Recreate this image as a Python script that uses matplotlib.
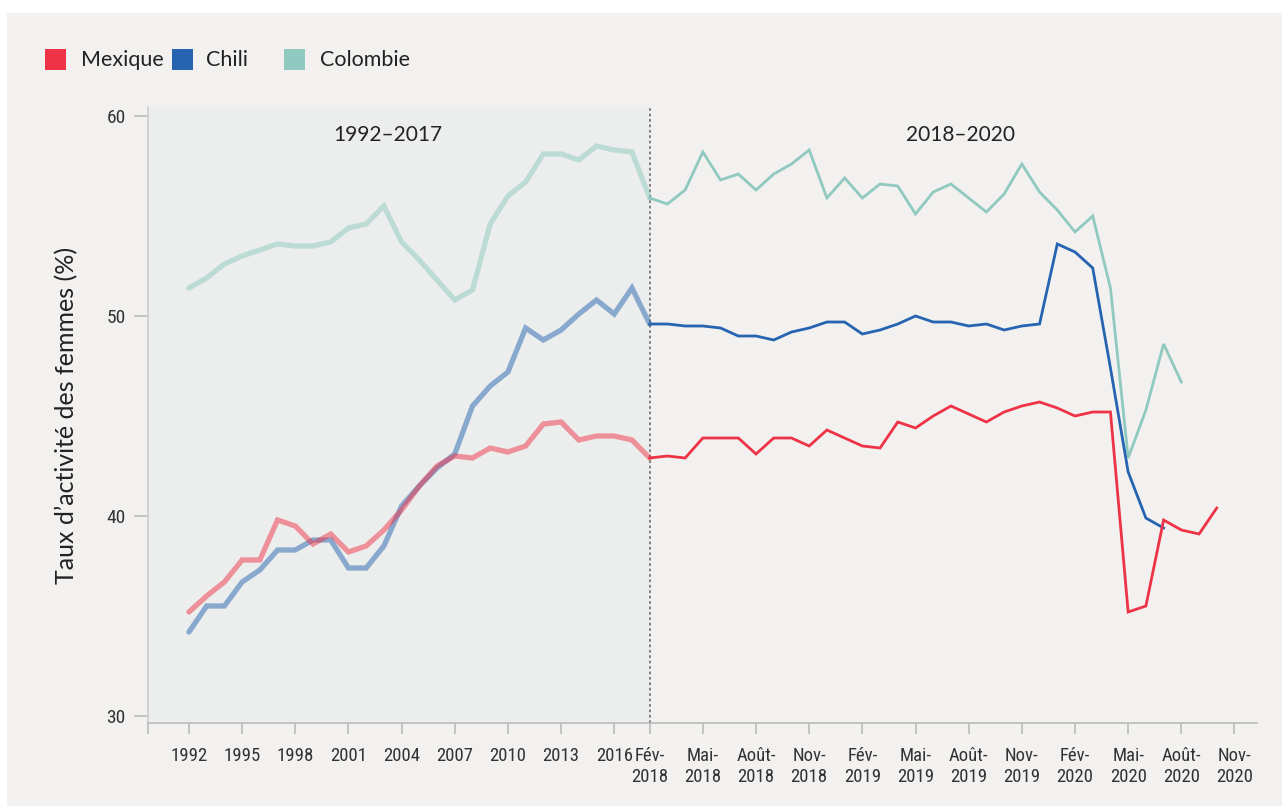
#!/usr/bin/env python3

# Taux d'activite des femmes : Mexique, Chili, Colombie (1992-2017 annuel, 2018-2020 mensuel)

import numpy as np
import matplotlib
matplotlib.use("Agg")
import matplotlib.pyplot as plt
from matplotlib import font_manager
from matplotlib.patches import Rectangle


# annual data 1992-2017
years = list(range(1992, 2018))
mexique_annuel = [35.2, 36.0, 36.7, 37.8, 37.8, 39.8, 39.5, 38.6, 39.1, 38.2,
                  38.5, 39.3, 40.3, 41.5, 42.5, 43.0, 42.9, 43.4, 43.2, 43.5,
                  44.6, 44.7, 43.8, 44.0, 44.0, 43.8]
chili_annuel = [34.2, 35.5, 35.5, 36.7, 37.3, 38.3, 38.3, 38.8, 38.8, 37.4,
                37.4, 38.5, 40.5, 41.5, 42.4, 43.1, 45.5, 46.5, 47.2, 49.4,
                48.8, 49.3, 50.1, 50.8, 50.1, 51.4]
colombie_annuel = [51.4, 51.9, 52.6, 53.0, 53.3, 53.6, 53.5, 53.5, 53.7, 54.4,
                   54.6, 55.5, 53.7, 52.8, 51.8, 50.8, 51.3, 54.6, 56.0, 56.7,
                   58.1, 58.1, 57.8, 58.5, 58.3, 58.2]

# monthly data from Feb 2018
mexique_mensuel = [42.9, 43.0, 42.9, 43.9, 43.9, 43.9, 43.1, 43.9, 43.9, 43.5,
                   44.3, 43.9, 43.5, 43.4, 44.7, 44.4, 45.0, 45.5, 45.1, 44.7,
                   45.2, 45.5, 45.7, 45.4, 45.0, 45.2, 45.2, 35.2, 35.5, 39.8,
                   39.3, 39.1, 40.4]
chili_mensuel = [49.6, 49.6, 49.5, 49.5, 49.4, 49.0, 49.0, 48.8, 49.2, 49.4,
                 49.7, 49.7, 49.1, 49.3, 49.6, 50.0, 49.7, 49.7, 49.5, 49.6,
                 49.3, 49.5, 49.6, 53.6, 53.2, 52.4, 47.4, 42.2, 39.9, 39.4]
colombie_mensuel = [55.9, 55.6, 56.3, 58.2, 56.8, 57.1, 56.3, 57.1, 57.6, 58.3,
                    55.9, 56.9, 55.9, 56.6, 56.5, 55.1, 56.2, 56.6, 55.9, 55.2,
                    56.1, 57.6, 56.2, 55.3, 54.2, 55.0, 51.4, 42.9, 45.3, 48.6,
                    46.7]

year_ticks = [1992, 1995, 1998, 2001, 2004, 2007, 2010, 2013, 2016]
month_labels = ["Fév-\n2018", "Mai-\n2018", "Août-\n2018", "Nov-\n2018",
                "Fév-\n2019", "Mai-\n2019", "Août-\n2019", "Nov-\n2019",
                "Fév-\n2020", "Mai-\n2020", "Août-\n2020", "Nov-\n2020"]

ROUGE = '#ef3347'
BLEU = '#2663b0'
VERT = '#8fc9bf'
FOND = '#f2f1ef'
FOND_GAUCHE = '#eceeed'

MAIN_FONT = ['Lato', 'DejaVu Sans']

# condensed face for the numbers, if one is installed
installed = {(f.name, f.stretch) for f in font_manager.fontManager.ttflist}
installed_names = {n for n, s in installed}
NUM_FONT = ['DejaVu Sans']
NUM_STRETCH = 'normal'
for cand in ['Roboto Condensed', 'Liberation Sans Narrow', 'Open Sans Condensed',
             'Noto Sans Condensed', 'DejaVu Sans Condensed']:
    if cand in installed_names:
        NUM_FONT = [cand, 'DejaVu Sans']
        break
else:
    if any(n == 'DejaVu Sans' and s == 'condensed' for n, s in installed):
        NUM_STRETCH = 'condensed'
    elif 'Roboto' in installed_names:
        NUM_FONT = ['Roboto', 'DejaVu Sans']

fig = plt.figure(figsize=(12.82, 8.06), dpi=100)
fig.patch.set_facecolor('white')
fig.patches.append(Rectangle((7 / 1282, 0), 1, 1 - 13 / 806,
                             transform=fig.transFigure, facecolor=FOND,
                             edgecolor='none', zorder=-10))

ax = fig.add_axes([148 / 1282, 1 - 723 / 806, (1257 - 148) / 1282, (723 - 107) / 806])
ax.set_facecolor(FOND)

xlim_left = -2.31
ax.set_xlim(xlim_left, 60.27)
ax.set_ylim(29.65, 60.45)

n_years = len(years)
x_ann = np.arange(n_years + 1)  # last point joins the first month
split = n_years

ax.axvspan(xlim_left, split, color=FOND_GAUCHE, zorder=0, lw=0)
ax.axvline(split, color='#777777', lw=1.3, ls=(0, (1.5, 1.5)), zorder=1)

for ann, mens, col in [(colombie_annuel, colombie_mensuel, VERT),
                       (chili_annuel, chili_mensuel, BLEU),
                       (mexique_annuel, mexique_mensuel, ROUGE)]:
    ax.plot(x_ann, ann + [mens[0]], color=col, lw=3.8, alpha=0.5,
            solid_capstyle='round', solid_joinstyle='miter', zorder=2)
    x_m = split + np.arange(len(mens))
    ax.plot(x_m, mens, color=col, lw=2.0, solid_joinstyle='miter', zorder=3)

# x ticks
pos = [xlim_left] + [years.index(y) for y in year_ticks] + \
      [split + 3 * k for k in range(len(month_labels))]
labels = [''] + [str(y) for y in year_ticks] + month_labels
ax.set_xticks(pos)
ax.set_xticklabels(labels, family=NUM_FONT, stretch=NUM_STRETCH, fontsize=13.5,
                   color='#333333', linespacing=1.25, va='top')
ax.tick_params(axis='x', length=8, width=1.2, color='#bbbbbb', pad=9)

ax.set_yticks([30, 40, 50, 60])
ax.set_yticklabels(['30', '40', '50', '60'], family=NUM_FONT, stretch=NUM_STRETCH,
                   fontsize=14, color='#333333')
ax.tick_params(axis='y', length=10, width=1.2, color='#bbbbbb', pad=6)

for s in ['top', 'right']:
    ax.spines[s].set_visible(False)
ax.spines['left'].set_color('#cccccc')
ax.spines['left'].set_linewidth(1.2)
ax.spines['bottom'].set_color('#bbbbbb')
ax.spines['bottom'].set_linewidth(1.2)

ax.set_ylabel("Taux d’activité des femmes (%)", family=MAIN_FONT,
              fontsize=18, color='#222222', labelpad=20)

ax.text(0.2164, 0.955, '1992–2017', transform=ax.transAxes, ha='center',
        va='center', family=MAIN_FONT, fontsize=15, color='#222222')
ax.text(0.7322, 0.955, '2018–2020', transform=ax.transAxes, ha='center',
        va='center', family=MAIN_FONT, fontsize=15, color='#222222')

# legend, drawn by hand
W, H = 1282.0, 806.0
for x0, xt, name, col in [(45, 81, 'Mexique', ROUGE),
                          (172, 206, 'Chili', BLEU),
                          (284, 320, 'Colombie', VERT)]:
    fig.patches.append(Rectangle((x0 / W, 1 - 70 / H), 21 / W, 21 / H,
                                 transform=fig.transFigure, facecolor=col,
                                 edgecolor='none'))
    fig.text(xt / W, 1 - 60 / H, name, family=MAIN_FONT, fontsize=15.5,
             color='#222222', va='center', ha='left')

fig.savefig('out.png', dpi=100, facecolor=fig.get_facecolor())
